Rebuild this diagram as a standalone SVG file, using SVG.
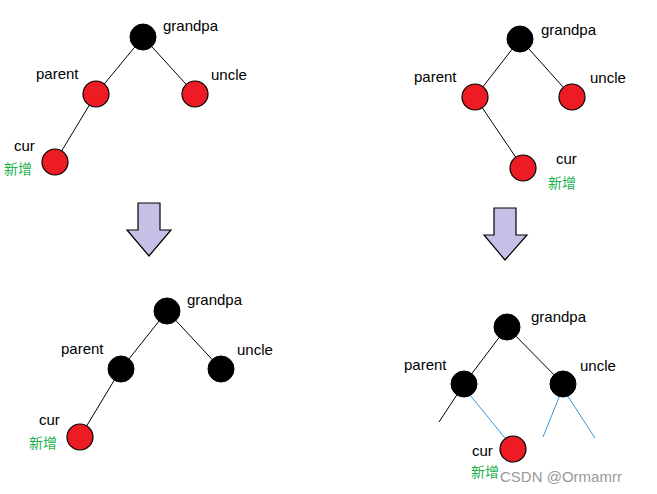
<svg xmlns="http://www.w3.org/2000/svg" width="657" height="494" viewBox="0 0 657 494">
<style>
.b{fill:#000;stroke:#000}
.r{fill:#ed1c24;stroke:#000;stroke-width:1.2}
.t{font-family:"Liberation Sans",Arial,sans-serif;font-size:15px;fill:#000}
.g{font-family:"Noto Sans CJK SC",sans-serif;font-size:14px;fill:#22b14c}
.e{stroke:#000;stroke-width:1}
.bl{stroke:#3399dd;stroke-width:1}
.ar{fill:#c8bfe7;stroke:#000;stroke-width:1.2}
</style>
<rect width="657" height="494" fill="#fff"/>
<g id="connectors">
<line class="e" x1="143" y1="37" x2="96" y2="94"/><line class="e" x1="143" y1="37" x2="195" y2="94"/><line class="e" x1="96" y1="94" x2="55" y2="162"/>
<line class="e" x1="520" y1="39" x2="475" y2="97"/><line class="e" x1="520" y1="39" x2="572" y2="97"/><line class="e" x1="475" y1="97" x2="523" y2="168"/>
<line class="e" x1="167" y1="311" x2="121" y2="369"/><line class="e" x1="167" y1="311" x2="221" y2="369"/><line class="e" x1="121" y1="369" x2="80" y2="437"/>
<line class="e" x1="507" y1="327" x2="464" y2="384"/><line class="e" x1="507" y1="327" x2="563" y2="384"/><line class="e" x1="464" y1="384" x2="439" y2="422"/>
<line class="bl" x1="470" y1="395" x2="505" y2="438"/><line class="bl" x1="560" y1="395" x2="543" y2="437"/><line class="bl" x1="567" y1="395" x2="595" y2="438"/>
</g>
<g id="arrow1"><polygon class="ar" points="138,203 160,203 160,230 171,230 149,256 127,230 138,230"/></g>
<g id="arrow2"><polygon class="ar" points="494,208 516,208 516,235 527,235 505,260 484,235 494,235"/></g>
<g id="tree1">
<circle class="b" cx="143" cy="37" r="13"/><circle class="r" cx="96" cy="94" r="13"/><circle class="r" cx="195" cy="94" r="13"/><circle class="r" cx="55" cy="162" r="13"/>
<text class="t" x="163" y="31">grandpa</text><text class="t" x="36" y="79">parent</text><text class="t" x="211" y="80">uncle</text><text class="t" x="14" y="151">cur</text><text class="g" x="4" y="174">新增</text>
</g>
<g id="tree2">
<circle class="b" cx="520" cy="39" r="13"/><circle class="r" cx="475" cy="97" r="13"/><circle class="r" cx="572" cy="97" r="13"/><circle class="r" cx="523" cy="168" r="13"/>
<text class="t" x="541" y="35">grandpa</text><text class="t" x="414" y="82">parent</text><text class="t" x="590" y="83">uncle</text><text class="t" x="556" y="164">cur</text><text class="g" x="548" y="188">新增</text>
</g>
<g id="tree3">
<circle class="b" cx="167" cy="311" r="13"/><circle class="b" cx="121" cy="369" r="13"/><circle class="b" cx="221" cy="369" r="13"/><circle class="r" cx="80" cy="437" r="13"/>
<text class="t" x="187" y="305">grandpa</text><text class="t" x="61" y="354">parent</text><text class="t" x="237" y="355">uncle</text><text class="t" x="39" y="425">cur</text><text class="g" x="29" y="448">新增</text>
</g>
<g id="tree4">
<circle class="b" cx="507" cy="327" r="13"/><circle class="b" cx="464" cy="384" r="13"/><circle class="b" cx="563" cy="384" r="13"/><circle class="r" cx="513" cy="449" r="13"/>
<text class="t" x="531" y="322">grandpa</text><text class="t" x="404" y="370">parent</text><text class="t" x="580" y="371">uncle</text><text class="t" x="472" y="456">cur</text><text class="g" x="471" y="477">新增</text>
</g>
<text x="500" y="482" font-family="'Liberation Sans',Arial,sans-serif" font-size="15" fill="#999">CSDN @Ormamrr</text>
</svg>
